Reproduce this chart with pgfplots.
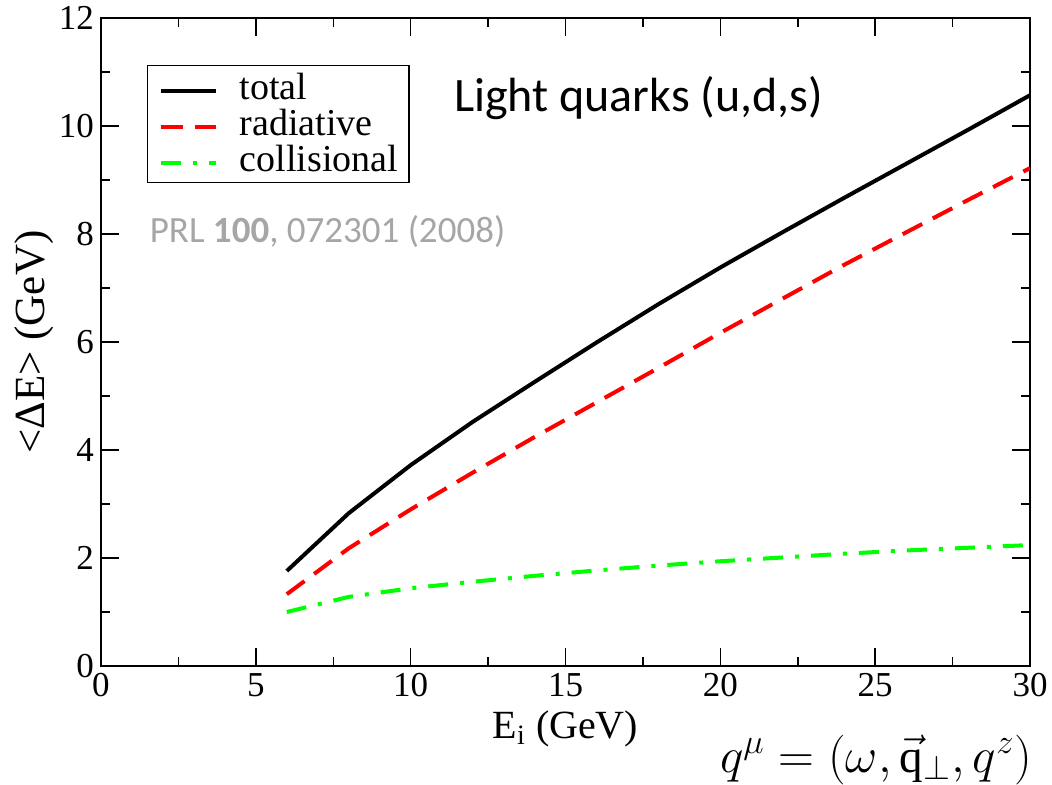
\documentclass[border=0pt]{standalone}
\usepackage{pgfplots}
\pgfplotsset{compat=1.18}
\usepackage{fontspec}
\setmainfont{Liberation Serif}
\newfontfamily\calfont{Carlito}
\definecolor{prlgray}{RGB}{166,166,166}
\definecolor{grgreen}{RGB}{0,255,0}

\begin{document}
\begin{tikzpicture}
\useasboundingbox (-50.5pt,-59pt) rectangle (475.5pt,333pt);
\begin{axis}[
  at={(0,0)}, anchor=south west,
  scale only axis, width=464.5pt, height=324pt,
  xmin=0, xmax=30, ymin=0, ymax=12,
  xtick={0,5,...,30}, ytick={0,2,...,12},
  minor x tick num=1, minor y tick num=1,
  tick align=inside,
  major tick length=9pt, minor tick length=4.5pt,
  axis line style={line width=0.75pt},
  every tick/.style={line width=0.75pt, black},
  tick label style={font=\fontsize{17.5}{17.5}\selectfont},
  /pgf/number format/assume math mode=true,
  xlabel={E\textsubscript{i} (GeV)},
  ylabel={<ΔE> (GeV)},
  xlabel style={font=\fontsize{20}{20}\selectfont},
  ylabel style={font=\fontsize{21.5}{21.5}\selectfont, yshift=-4pt},
  legend style={at={(rel axis cs:0.0495,0.9275)}, anchor=north west,
    draw=black, line width=0.75pt,
    font=\fontsize{19}{19}\selectfont,
    inner xsep=5.5pt, inner ysep=2.25pt,
    nodes={inner sep=0pt, text height=14.5pt, text depth=3.5pt},
    /tikz/every odd column/.append style={column sep=11pt}},
  legend cell align=left,
  legend image code/.code={\draw[#1] (0pt,-1.5pt) -- (27.5pt,-1.5pt);},
]
\addplot[black, line width=2pt] coordinates {
(6,1.76) (8,2.83) (10,3.72) (12,4.52) (14,5.26) (16,5.99) (18,6.70)
(20,7.38) (22,8.03) (24,8.67) (26,9.30) (28,9.93) (30,10.57)};
\addlegendentry{total}
\addplot[red, line width=2pt, dash pattern=on 11pt off 6pt] coordinates {
(6,1.33) (8,2.18) (10,2.9) (12,3.58) (14,4.24) (16,4.88) (18,5.52)
(20,6.17) (22,6.8) (24,7.43) (26,8.03) (28,8.63) (30,9.22)};
\addlegendentry{radiative}
\addplot[grgreen, line width=2pt, dash pattern=on 10pt off 6pt on 2pt off 6pt] coordinates {
(6,1.0) (8,1.28) (10,1.44) (12,1.56) (14,1.67) (16,1.77) (18,1.86)
(20,1.94) (22,2.01) (24,2.08) (26,2.14) (28,2.19) (30,2.24)};
\addlegendentry{collisional}
\node[anchor=base west, font=\calfont\fontsize{24}{24}\selectfont]
  at (rel axis cs:0.3725,0.855) {Light quarks (u,d,s)};
\node[anchor=base west, text=prlgray, font=\calfont\fontsize{18.5}{18.5}\selectfont]
  at (rel axis cs:0.045,0.654) {PRL \textbf{100}, 072301 (2008)};
\end{axis}
\node[anchor=base west, font=\fontsize{23.5}{23.5}\selectfont] at (306pt,-53pt)
  {$q^{\mu} = (\omega, \vec{\mathrm{q}}_{\perp}, q^{z})$};
\end{tikzpicture}
\end{document}
